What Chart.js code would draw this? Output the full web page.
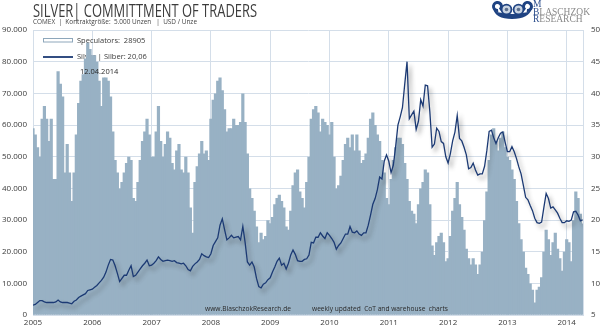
<!DOCTYPE html>
<html><head><meta charset="utf-8">
<script src="https://cdn.jsdelivr.net/npm/chart.js@4/dist/chart.umd.min.js"></script>
<style>html,body{margin:0;padding:0;background:#fff;}#wrap{width:600px;height:328px;position:relative;}</style>
</head><body><div id="wrap"><canvas id="c" width="600" height="328"></canvas></div>
<script>
// ---- data (bi-weekly readings, Jan 2005 - Apr 2014) ----
const startYear = 2005;
const periodsPerYear = 26;
const yearTicks = [2005, 2006, 2007, 2008, 2009, 2010, 2011, 2012, 2013, 2014];
const leftTicks = [0, 10000, 20000, 30000, 40000, 50000, 60000, 70000, 80000, 90000];
const rightTicks = [5, 10, 15, 20, 25, 30, 35, 40, 45, 50];
const speculators = [
59000,57000,53000,50000,62000,66000,62000,55000,62000,43000,
43000,77000,73000,69000,45000,54000,45000,36000,45000,57000,
67000,74000,76000,81000,86000,84000,82000,82000,80000,74000,
66000,75000,75000,74000,69000,58000,49000,45000,40000,42000,
45000,48000,50000,49000,37000,36000,42000,49000,55000,58000,
62000,57000,50000,50000,58000,66000,55000,50000,54000,58000,
56000,48000,46000,52000,54000,46000,45000,50000,45000,34000,
26000,42000,47000,51000,55000,51000,52000,49000,62000,68000,
70000,74000,75000,71000,65000,58000,59000,59000,62000,60000,
60000,61000,70000,61000,51000,40000,37000,33000,28000,23000,
26000,24000,25000,30000,29000,31000,35000,37000,38000,36000,
34000,28000,27000,33000,41000,45000,46000,39000,37000,34000,
42000,50000,62000,65000,66000,64000,58000,62000,61000,60000,
57000,61000,50000,40000,41000,44000,49000,54000,56000,53000,
57000,52000,57000,52000,48000,49000,51000,56000,62000,64000,
60000,57000,55000,49000,45000,37000,35000,43000,49000,53000,
56000,56000,54000,48000,43000,36000,33000,32000,29000,35000,
40000,42000,46000,45000,35000,22000,19000,23000,25000,26000,
23000,17000,18000,25000,33000,37000,42000,35000,31000,27000,
21000,18000,16000,18000,16000,13000,16000,20000,30000,39000,
49000,57000,59000,55000,52000,56000,58000,53000,50000,49000,
46000,43000,36000,29000,24000,20000,15000,13000,10000,8000,
4000,8000,9000,12000,20000,27000,24000,19000,23000,26000,
21000,18000,14000,20000,24000,23000,17000,30000,39000,37000,
32000,28905];
const silver = [
6.6,6.7,7.0,7.3,7.3,7.1,7.0,7.0,7.0,7.0,
7.1,7.4,7.1,7.0,7.0,7.0,6.9,6.8,7.2,7.4,
7.8,8.0,8.2,8.4,8.9,9.0,9.1,9.4,9.7,10.1,
10.5,11.0,11.8,12.9,13.8,13.7,12.8,11.6,10.3,10.8,
11.3,11.3,12.1,12.8,11.1,11.3,11.8,12.3,12.8,13.2,
13.7,12.8,12.9,13.2,13.6,14.2,13.8,13.5,13.6,13.7,
13.6,13.5,13.6,13.3,13.2,13.1,13.2,12.8,12.2,12.0,
12.7,13.1,13.4,13.8,14.7,14.4,14.2,14.1,14.7,16.0,
16.6,17.2,19.2,20.2,18.5,16.9,17.2,17.6,17.2,17.3,
17.4,16.9,19.0,16.5,13.4,12.9,13.4,12.6,10.8,9.5,
9.3,9.9,10.1,10.6,10.9,11.8,12.6,13.5,14.0,12.9,
13.2,12.3,13.2,14.5,15.3,14.6,13.6,13.5,13.5,13.8,
13.9,14.5,16.5,16.4,17.3,17.3,18.0,17.5,17.1,18.0,
17.6,17.1,16.5,15.4,16.0,16.4,17.1,17.8,17.8,19.0,
18.1,18.0,18.3,17.8,17.6,18.0,18.0,19.2,20.8,22.5,
23.4,24.8,26.8,26.5,29.3,30.3,29.3,27.5,28.7,31.6,
35.0,36.3,37.8,41.5,45.0,36.0,36.6,37.2,34.3,35.6,
39.0,38.0,41.3,41.2,37.1,31.5,32.0,34.5,34.0,32.4,
32.1,30.0,29.0,30.5,32.5,33.9,36.5,32.9,32.5,31.5,
30.3,28.1,28.3,29.0,27.9,27.1,27.3,27.3,28.5,31.0,
34.0,34.2,33.0,32.1,33.0,33.7,33.9,32.3,30.8,30.8,
31.6,30.8,29.7,28.4,27.3,25.5,23.6,23.2,22.3,21.5,
20.3,19.6,19.5,19.7,22.0,24.2,23.4,21.9,22.1,21.6,
21.1,20.3,19.6,19.6,19.9,19.8,20.0,21.3,21.4,20.8,
19.9,20.06];
const titleText = 'SILVER| COMMITTMENT OF TRADERS';
const subtitleText = 'COMEX  |  Kontraktgröße:  5.000 Unzen   |  USD / Unze';
const legendSpec = 'Speculators:  28905';
const legendSilver = 'Silver | Silber: 20,06';
const dateText = '12.04.2014';
const footerLeft = 'www.BlaschzokResearch.de';
const footerRight = 'weekly updated  CoT and warehouse  charts';

// ---- styles ----
const barColor = '#98b1c4';
const lineColor = '#1c3a74';
const gridColor = '#d4dee9';
const textColor = '#3a3a3a';
const FONT = "'Open Sans', 'DejaVu Sans', sans-serif";

const xs = speculators.map((_, i) => startYear + i / periodsPerYear);

const shadowPlugin = {
  id: 'shadow',
  beforeDatasetDraw(chart, args) {
    if (args.meta.type === 'line') {
      const c = chart.ctx; c.save();
      c.shadowColor = 'rgba(50,50,50,0.45)';
      c.shadowBlur = 4; c.shadowOffsetX = 3; c.shadowOffsetY = 4;
    }
  },
  afterDatasetDraw(chart, args) {
    if (args.meta.type === 'line') chart.ctx.restore();
  }
};

function drawLogo(c) {
  c.save();
  const blue = '#1f4382';
  c.fillStyle = blue; c.strokeStyle = blue;
  c.beginPath();
  c.moveTo(493, 8);
  c.quadraticCurveTo(495, 19, 512, 19);
  c.quadraticCurveTo(529, 19, 532, 8);
  c.lineTo(528, 12);
  c.quadraticCurveTo(512, 16, 497, 12);
  c.closePath(); c.fill();
  c.lineWidth = 3;
  c.beginPath(); c.arc(497.5, 6.5, 4, 0.45 * Math.PI, 2.3 * Math.PI); c.stroke();
  c.beginPath(); c.arc(527.5, 6.5, 4, 0.7 * Math.PI, 2.55 * Math.PI); c.stroke();
  [506.5, 518.5].forEach(x => {
    c.beginPath(); c.arc(x, 9.5, 5.8, 0, 2 * Math.PI); c.fillStyle = blue; c.fill();
    c.beginPath(); c.arc(x, 9.5, 4, 0, 2 * Math.PI); c.fillStyle = '#c9d4e2'; c.fill();
    c.beginPath(); c.arc(x, 9.5, 1.8, 0, 2 * Math.PI); c.fillStyle = '#5b6f8e'; c.fill();
  });
  c.textBaseline = 'alphabetic'; c.textAlign = 'left';
  c.font = "9.5px 'Liberation Serif', serif";
  c.fillStyle = '#2b4d8c'; c.fillText('M', 533, 7);
  c.fillText('B', 533, 14.5);
  let w = c.measureText('B').width;
  c.fillStyle = '#8a8a8a'; c.fillText('LASCHZOK', 533 + w, 14.5);
  c.fillStyle = '#2b4d8c'; c.fillText('R', 533, 22);
  w = c.measureText('R').width;
  c.fillStyle = '#8a8a8a'; c.fillText('ESEARCH', 533 + w, 22);
  c.restore();
}

const decorPlugin = {
  id: 'decor',
  beforeDatasetsDraw(chart) {
    const c = chart.ctx; c.save();
    c.fillStyle = '#ffffff'; c.strokeStyle = '#8ea7bb'; c.lineWidth = 1;
    c.fillRect(43.5, 38.5, 29, 3.5); c.strokeRect(43.5, 38.5, 29, 3.5);
    c.strokeStyle = lineColor; c.lineWidth = 1.8;
    c.beginPath(); c.moveTo(43, 57); c.lineTo(73, 57); c.stroke();
    c.fillStyle = textColor; c.font = '7.5px ' + FONT; c.textBaseline = 'middle'; c.textAlign = 'left';
    c.fillText(legendSpec, 77, 40.5);
    c.fillText(legendSilver, 77, 57);
    c.restore();
  },
  afterDatasetsDraw(chart) {
    const c = chart.ctx; c.save();
    c.fillStyle = '#2a2a2a'; c.textBaseline = 'middle'; c.textAlign = 'left';
    c.font = '7.5px ' + FONT;
    c.fillText(dateText, 80, 72);
    c.font = '7px ' + FONT;
    c.fillText(footerLeft, 205, 309, 86);
    c.fillText(footerRight, 312, 309, 136);
    c.restore();
  },
  afterDraw(chart) {
    const c = chart.ctx; c.save();
    c.fillStyle = '#3c3c3c'; c.textAlign = 'left'; c.textBaseline = 'alphabetic';
    c.font = '19px ' + FONT;
    c.fillText(titleText, 33, 17, 224);
    c.font = '7px ' + FONT; c.fillStyle = '#444';
    c.fillText(subtitleText, 33, 23.5, 164);
    c.restore();
    drawLogo(c);
  }
};

new Chart(document.getElementById('c'), {
  type: 'bar',
  data: {
    datasets: [
      { type: 'line', label: 'Silver | Silber', data: xs.map((x, i) => ({ x, y: silver[i] })),
        yAxisID: 'y2', borderColor: lineColor, borderWidth: 1.3, pointRadius: 0, tension: 0, fill: false, order: 0 },
      { type: 'bar', label: 'Speculators', data: xs.map((x, i) => ({ x, y: speculators[i] })),
        yAxisID: 'y', backgroundColor: barColor, borderWidth: 0, barPercentage: 1.4, categoryPercentage: 1, order: 1 }
    ]
  },
  options: {
    responsive: false, animation: false, devicePixelRatio: 1,
    layout: { padding: { top: 30, left: 0, right: 0, bottom: 0 } },
    plugins: { legend: { display: false }, tooltip: { enabled: false }, title: { display: false } },
    scales: {
      x: {
        type: 'linear', min: 2005, max: 2014.275, offset: false,
        afterBuildTicks: s => { s.ticks = yearTicks.map(v => ({ value: v })); },
        ticks: { color: textColor, font: { family: FONT, size: 8 }, padding: 3, maxRotation: 0, autoSkip: false, callback: v => String(v) },
        grid: { color: gridColor, drawTicks: false, offset: false },
        border: { color: gridColor },
        afterFit: s => { s.height = 12; }
      },
      y: {
        position: 'left', min: 0, max: 90000,
        afterBuildTicks: s => { s.ticks = leftTicks.map(v => ({ value: v })); },
        ticks: { color: textColor, font: { family: FONT, size: 8 }, padding: 6,
          callback: v => v === 0 ? '0' : (v / 1000) + '.000' },
        grid: { color: gridColor, drawTicks: false },
        border: { color: gridColor },
        afterFit: s => { s.width = 33; }
      },
      y2: {
        position: 'right', min: 5, max: 50,
        afterBuildTicks: s => { s.ticks = rightTicks.map(v => ({ value: v })); },
        ticks: { color: textColor, font: { family: FONT, size: 8 }, padding: 8 },
        grid: { display: false, drawTicks: false },
        border: { color: gridColor },
        afterFit: s => { s.width = 17; }
      }
    }
  },
  plugins: [shadowPlugin, decorPlugin]
});
</script></body></html>
